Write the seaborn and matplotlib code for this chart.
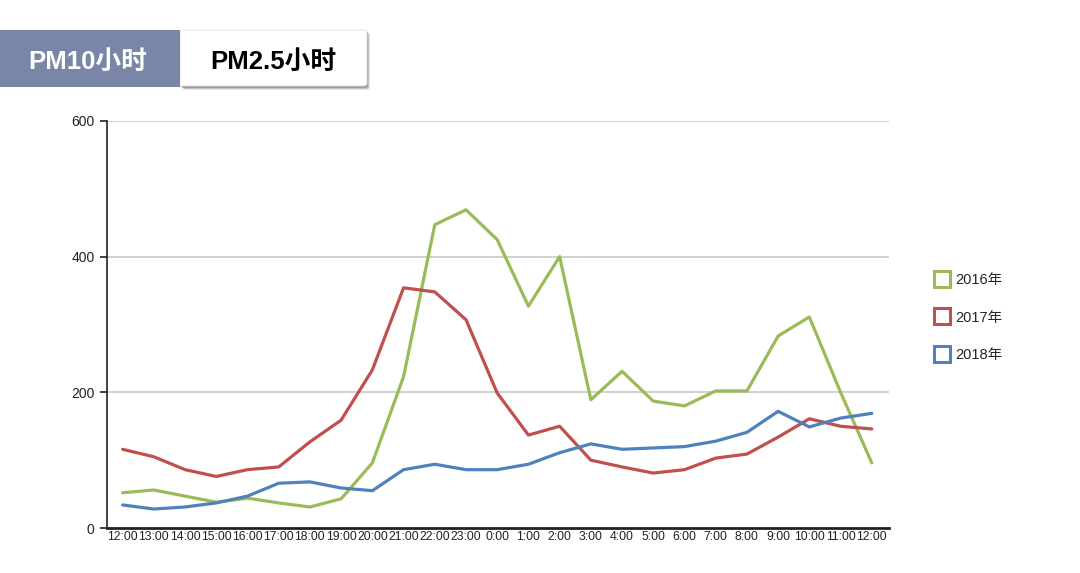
import matplotlib
matplotlib.use("Agg")
import matplotlib.pyplot as plt
import seaborn as sns
import pandas as pd
from matplotlib.lines import Line2D
from matplotlib.patches import FancyBboxPatch, Rectangle

hours = ["12:00", "13:00", "14:00", "15:00", "16:00", "17:00", "18:00", "19:00",
         "20:00", "21:00", "22:00", "23:00", "0:00", "1:00", "2:00", "3:00",
         "4:00", "5:00", "6:00", "7:00", "8:00", "9:00", "10:00", "11:00", "12:00"]
years = ["2016年", "2017年", "2018年"]
v2016 = [52, 56, 47, 38, 44, 37, 31, 43, 96, 223, 447, 469, 425, 327, 400, 189,
         231, 187, 180, 202, 202, 283, 311, 200, 96]
v2017 = [116, 105, 86, 76, 86, 90, 127, 159, 233, 354, 348, 307, 199, 137, 150, 100,
         90, 81, 86, 103, 109, 134, 161, 150, 146]
v2018 = [34, 28, 31, 37, 47, 66, 68, 59, 55, 86, 94, 86, 86, 94, 111, 124,
         116, 118, 120, 128, 141, 172, 149, 162, 169]
colors = ["#9BBB59", "#C0504D", "#4F81BD"]
yticks = [0, 200, 400, 600]
tabs = ["PM10小时", "PM2.5小时"]

sns.set_theme(style="white")
plt.rcParams['font.family'] = ['Liberation Sans', 'Noto Sans CJK SC', 'DejaVu Sans']

rows = []
for yr, vals in zip(years, [v2016, v2017, v2018]):
    for i, v in enumerate(vals):
        rows.append({"idx": i, "value": v, "year": yr})
df = pd.DataFrame(rows)

fig = plt.figure(figsize=(10.8, 5.73), dpi=100)
fig.patch.set_facecolor("white")
ax = fig.add_axes([0.0991, 0.0785, 0.724, 0.7105])

sns.lineplot(data=df, x="idx", y="value", hue="year", palette=colors,
             linewidth=2.3, ax=ax, legend=False, sort=False)

ax.set_xlim(-0.45, 24.55)
ax.set_ylim(0, 600)
ax.set_yticks(yticks)
ax.set_yticklabels([str(t) for t in yticks], fontsize=10, color="#222222")
ax.set_xticks(range(len(hours)))
ax.set_xticklabels(hours, fontsize=8.8, color="#222222")
ax.set_xticks([i + 0.5 for i in range(-1, len(hours))], minor=True)
ax.tick_params(axis="x", which="major", length=0, pad=2)
ax.tick_params(axis="x", which="minor", length=4, width=1.2, color="#222222", direction="out")
ax.tick_params(axis="y", which="major", length=5, width=1.2, color="#222222", direction="out", left=True, pad=4)
for t in yticks[1:]:
    ax.axhline(t, color="#C8C8C8", linewidth=1.2, zorder=0)
for s in ["top", "right"]:
    ax.spines[s].set_visible(False)
ax.spines["left"].set_color("#222222")
ax.spines["left"].set_linewidth(1.2)
ax.spines["bottom"].set_color("#222222")
ax.spines["bottom"].set_linewidth(2.0)
ax.set_xlabel("")
ax.set_ylabel("")

handles = [Line2D([0], [0], linestyle="none", marker="s", markersize=11,
                  markerfacecolor="white", markeredgecolor=c, markeredgewidth=2.2)
           for c in colors]
fig.legend(handles, years, loc="upper left", bbox_to_anchor=(0.853, 0.546),
           frameon=False, labelspacing=1.6, handletextpad=0.45,
           handlelength=1.0, prop={"family": ["Liberation Sans", "Noto Sans CJK SC"], "size": 10.5})

# tabs
W, H = 1080, 573
def px(x, y):
    return x / W, 1 - y / H

for dx, alpha in [(3, 0.10), (2, 0.15), (1, 0.2)]:
    x0, y0 = px(180 + dx, 87 + dx)
    fig.patches.append(FancyBboxPatch((x0, y0), 187 / W, 57 / H,
                                      boxstyle="round,pad=0,rounding_size=0.004",
                                      transform=fig.transFigure, facecolor="black",
                                      edgecolor="none", alpha=alpha, zorder=1))
x0, y0 = px(180, 86)
fig.patches.append(FancyBboxPatch((x0, y0), 187 / W, 56 / H,
                                  boxstyle="round,pad=0,rounding_size=0.004",
                                  transform=fig.transFigure, facecolor="white",
                                  edgecolor="#E0E0E0", linewidth=0.6, zorder=2))
x0, y0 = px(0, 87)
fig.patches.append(Rectangle((x0, y0), 180 / W, 57 / H, transform=fig.transFigure,
                             facecolor="#7A86A8", edgecolor="none", zorder=3))

fig.text(*px(88, 62), tabs[0], ha="center", va="center", fontsize=18.5,
         fontweight="bold", color="white", family=["Liberation Sans", "Noto Sans CJK SC"], zorder=4)
fig.text(*px(273, 62), tabs[1], ha="center", va="center", fontsize=18.5,
         fontweight="bold", color="black", family=["Liberation Sans", "Noto Sans CJK SC"], zorder=4)

fig.savefig("out.png", dpi=100, facecolor="white")
